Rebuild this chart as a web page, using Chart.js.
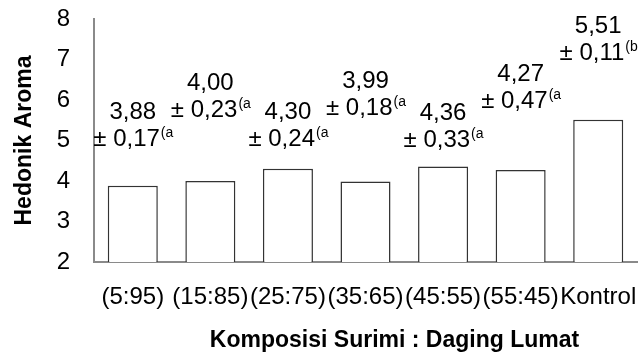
<!DOCTYPE html>
<html>
<head>
<meta charset="utf-8">
<script src="https://cdn.jsdelivr.net/npm/chart.js@4"></script>
<style>
  html, body { margin: 0; padding: 0; background: #ffffff; }
  #wrap { width: 644px; height: 358px; }
</style>
</head>
<body>
<div id="wrap"><canvas id="chart" width="644" height="358"></canvas></div>
<script>
// Hedonic aroma score per surimi : minced meat composition
const categories = ['(5:95)', '(15:85)', '(25:75)', '(35:65)', '(45:55)', '(55:45)', 'Kontrol'];
const means = [3.88, 4.00, 4.30, 3.99, 4.36, 4.27, 5.51];
const stdDevs = [0.17, 0.23, 0.24, 0.18, 0.33, 0.47, 0.11];
const groups = ['a', 'a', 'a', 'a', 'a', 'a', 'b'];
const yTicks = [2, 3, 4, 5, 6, 7, 8];

// Height (in score units) where each annotation's first line sits
const labelLevel = [5.70, 6.42, 5.70, 6.47, 5.68, 6.64, 7.83];

const FONT = "'Liberation Sans', Arial, sans-serif";
const fmt = v => v.toFixed(2).replace('.', ',');

// Two-line "mean / ± sd(letter" annotation above every bar
const annotations = {
  id: 'annotations',
  afterDatasetsDraw(chart) {
    const { ctx, scales: { y } } = chart;
    const meta = chart.getDatasetMeta(0);
    ctx.save();
    ctx.fillStyle = '#000';
    ctx.textBaseline = 'middle';
    meta.data.forEach((bar, i) => {
      const cx = bar.x;
      const y1 = y.getPixelForValue(labelLevel[i]);
      const y2 = y1 + 27;
      ctx.font = `24px ${FONT}`;
      ctx.textAlign = 'center';
      ctx.fillText(fmt(means[i]), cx, y1);
      const main = '\u00b1 ' + fmt(stdDevs[i]);
      const sup = '(' + groups[i];
      const wMain = ctx.measureText(main).width;
      ctx.font = `14px ${FONT}`;
      const wSup = ctx.measureText(sup).width;
      const x0 = cx - (wMain + wSup) / 2;
      ctx.textAlign = 'left';
      ctx.font = `24px ${FONT}`;
      ctx.fillText(main, x0, y2);
      ctx.font = `14px ${FONT}`;
      ctx.fillText(sup, x0 + wMain + 1, y2 - 6);
    });
    ctx.restore();
  }
};

// Category axis title below the tick labels
const xTitle = {
  id: 'xTitle',
  afterDraw(chart) {
    const { ctx, chartArea } = chart;
    ctx.save();
    ctx.font = `bold 23px ${FONT}`;
    ctx.fillStyle = '#000';
    ctx.textAlign = 'center';
    ctx.textBaseline = 'middle';
    ctx.fillText('Komposisi Surimi : Daging Lumat', (chartArea.left + chartArea.right) / 2 + 29, 341);
    ctx.restore();
  }
};

new Chart(document.getElementById('chart'), {
  type: 'bar',
  data: {
    labels: categories,
    datasets: [{
      data: means,
      backgroundColor: '#ffffff',
      borderColor: '#333333',
      borderWidth: 1.5,
      categoryPercentage: 1,
      barPercentage: 0.645
    }]
  },
  options: {
    responsive: false,
    animation: false,
    layout: { padding: { top: 19, right: 7, bottom: 0, left: 0 } },
    plugins: { legend: { display: false }, tooltip: { enabled: false } },
    scales: {
      x: {
        grid: { display: false, drawTicks: false },
        border: { display: true, color: '#8a8a8a', width: 2 },
        ticks: {
          color: '#000',
          font: { family: FONT, size: 24 },
          padding: 21,
          maxRotation: 0,
          minRotation: 0,
          autoSkip: false
        },
        afterFit(scale) {
          scale.height = 96;
          scale.paddingLeft = 0;
          scale.paddingRight = 0;
        }
      },
      y: {
        min: yTicks[0],
        max: yTicks[yTicks.length - 1],
        grid: { display: false, drawTicks: false },
        border: { display: true, color: '#8a8a8a', width: 2 },
        ticks: {
          stepSize: 1,
          color: '#000',
          font: { family: FONT, size: 24 },
          padding: 24
        },
        afterBuildTicks(scale) {
          scale.ticks = yTicks.map(v => ({ value: v }));
        },
        title: {
          display: true,
          text: 'Hedonik Aroma',
          color: '#000',
          font: { family: FONT, size: 23, weight: 'bold' },
          padding: { top: 11, bottom: 0 }
        },
        afterFit(scale) {
          scale.width = 94;
          scale.paddingTop = 0;
          scale.paddingBottom = 0;
        }
      }
    }
  },
  plugins: [annotations, xTitle]
});
</script>
</body>
</html>
